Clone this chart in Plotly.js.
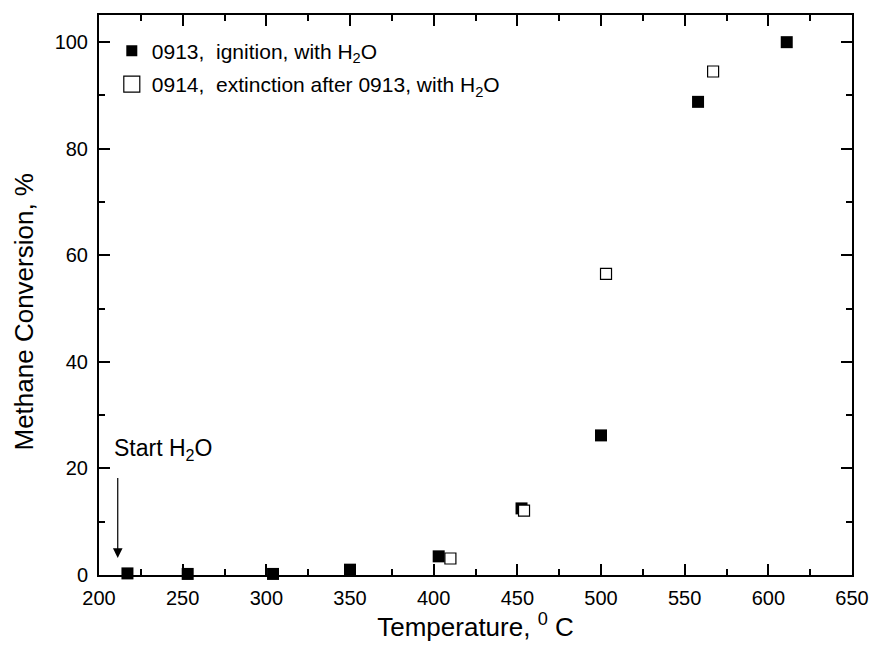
<!DOCTYPE html>
<html>
<head>
<meta charset="utf-8">
<script src="https://cdn.plot.ly/plotly-3.0.1.min.js"></script>
<style>html,body{margin:0;padding:0;background:#fff;}#chart{width:874px;height:657px;}</style>
</head>
<body>
<div id="chart"></div>
<script>
// Data
const ignitionTemp = [217, 253, 304, 350, 403, 452.5, 500, 558, 611];
const ignitionConv = [0.3, 0.2, 0.2, 1.0, 3.5, 12.5, 26.2, 88.8, 100];
const extinctionTemp = [410, 454, 503, 567];
const extinctionConv = [3.1, 12.1, 56.5, 94.5];
const ignitionName = '0913,  ignition, with H<sub>2</sub>O';
const extinctionName = '0914,  extinction after 0913, with H<sub>2</sub>O';
const xTickVals = [200, 250, 300, 350, 400, 450, 500, 550, 600, 650];
const yTickVals = [0, 20, 40, 60, 80, 100];
const startArrow = {x: 211.2, yTip: 3.2, yTail: 18.5};
const startLabel = {x: 238.5, y: 23.5, text: 'Start H<sub>2</sub>O'};
const xTitle = 'Temperature, <sup>0</sup> C';
const yTitle = 'Methane Conversion, %';

const FONT = 'Liberation Sans, Arial, sans-serif';

const traces = [
  {x: ignitionTemp, y: ignitionConv, type: 'scatter', mode: 'markers', name: ignitionName,
   showlegend: false, cliponaxis: false,
   marker: {symbol: 'square', size: 12, color: '#000', line: {width: 0}}},
  {x: extinctionTemp, y: extinctionConv, type: 'scatter', mode: 'markers', name: extinctionName,
   showlegend: false, cliponaxis: false,
   marker: {symbol: 'square', size: 11, color: '#fff', line: {width: 1.2, color: '#000'}}},
  // legend entries
  {x: [null], y: [null], type: 'scatter', mode: 'markers', name: ignitionName, legendgroup: 'a',
   marker: {symbol: 'square', size: 11, color: '#000'}},
  {x: [null], y: [null], type: 'scatter', mode: 'markers', name: extinctionName, legendgroup: 'b',
   marker: {symbol: 'square', size: 16, color: '#fff', line: {width: 1.2, color: '#000'}}}
];

const axisCommon = {
  showline: true, linecolor: '#000', linewidth: 2, mirror: 'ticks',
  ticks: 'inside', ticklen: 11, tickwidth: 2, tickcolor: '#000',
  showgrid: false, zeroline: false,
  tickfont: {family: FONT, size: 20, color: '#000'}
};

const layout = {
  width: 874, height: 657,
  margin: {l: 99, r: 22, t: 15, b: 82},
  paper_bgcolor: '#fff', plot_bgcolor: '#fff',
  font: {family: FONT, color: '#000'},
  xaxis: Object.assign({}, axisCommon, {
    range: [200, 650], tickvals: xTickVals, ticktext: xTickVals.map(String),
    minor: {ticks: 'inside', ticklen: 6, tickwidth: 2, tickcolor: '#000', dtick: 25, tick0: 200, showgrid: false},
    ticklabelstandoff: 4,
    title: {text: xTitle, font: {family: FONT, size: 26, color: '#000'}, standoff: 10}
  }),
  yaxis: Object.assign({}, axisCommon, {
    range: [0, 105.1], tickvals: yTickVals, ticktext: yTickVals.map(String),
    minor: {ticks: 'inside', ticklen: 6, tickwidth: 2, tickcolor: '#000', dtick: 10, tick0: 0, showgrid: false},
    ticklabelstandoff: 5
  }),
  showlegend: true,
  legend: {x: 0.017, y: 0.972, xanchor: 'left', yanchor: 'top', bgcolor: 'rgba(0,0,0,0)',
           font: {family: FONT, size: 21, color: '#000'}, traceorder: 'grouped', tracegroupgap: 3},
  annotations: [
    {x: -0.1, y: 0.47, xref: 'paper', yref: 'paper', xanchor: 'center', yanchor: 'middle',
     text: yTitle, textangle: -90, showarrow: false, font: {family: FONT, size: 26, color: '#000'}},
    {x: startArrow.x, y: startArrow.yTip, ax: startArrow.x, ay: startArrow.yTail, axref: 'x', ayref: 'y',
     xref: 'x', yref: 'y', showarrow: true, arrowhead: 2, arrowsize: 1.6, arrowwidth: 1.2, arrowcolor: '#000', text: ''},
    {x: startLabel.x, y: startLabel.y, xref: 'x', yref: 'y', text: startLabel.text, showarrow: false,
     font: {family: FONT, size: 23, color: '#000'}}
  ]
};

Plotly.newPlot('chart', traces, layout, {displayModeBar: false, staticPlot: true});
</script>
</body>
</html>
